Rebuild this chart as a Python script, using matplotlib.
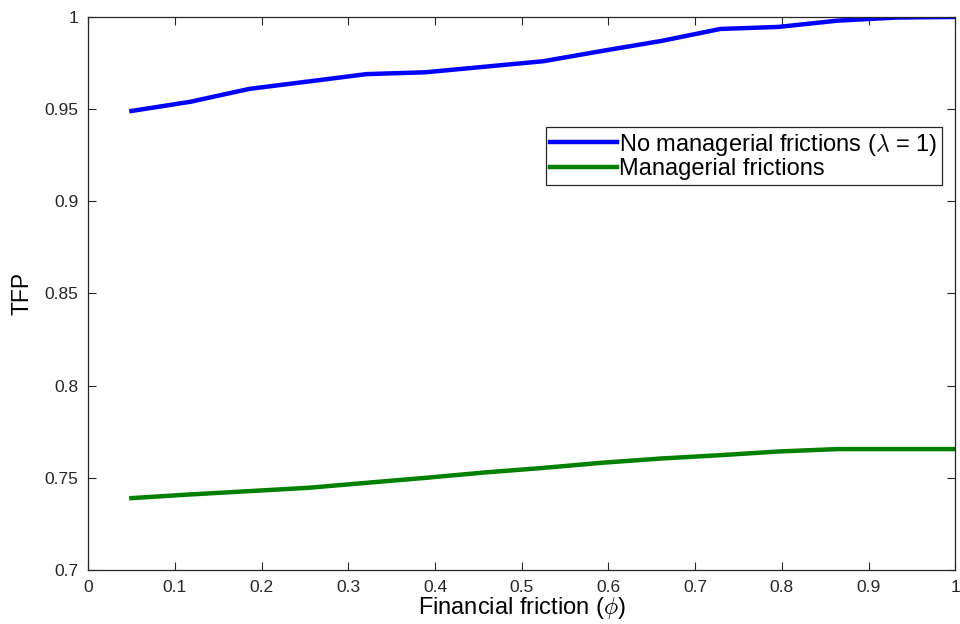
import matplotlib
matplotlib.use("Agg")
import matplotlib.pyplot as plt
import numpy as np

phi = [0.05, 0.118, 0.186, 0.254, 0.321, 0.389, 0.457, 0.525, 0.593, 0.661, 0.729, 0.796, 0.864, 0.932, 1.0]
tfp_no_mgr = [0.949, 0.954, 0.961, 0.965, 0.969, 0.970, 0.973, 0.976, 0.9816, 0.987, 0.9935, 0.9946, 0.998, 0.9997, 1.0]
tfp_mgr = [0.739, 0.741, 0.7428, 0.7446, 0.7473, 0.750, 0.7529, 0.7554, 0.7582, 0.7605, 0.7623, 0.7643, 0.7656, 0.7656, 0.7656]

xticks = [0, 0.1, 0.2, 0.3, 0.4, 0.5, 0.6, 0.7, 0.8, 0.9, 1]
xticklabels = ["0", "0.1", "0.2", "0.3", "0.4", "0.5", "0.6", "0.7", "0.8", "0.9", "1"]
yticks = [0.7, 0.75, 0.8, 0.85, 0.9, 0.95, 1]
yticklabels = ["0.7", "0.75", "0.8", "0.85", "0.9", "0.95", "1"]

plt.rcParams['font.family'] = ['Liberation Sans', 'DejaVu Sans']
plt.rcParams['mathtext.fontset'] = 'cm'

fig = plt.figure(figsize=(9.6, 6.24), dpi=100)
ax = fig.add_axes([0.0917, 0.0865, 0.9035, 0.8863])

ax.plot(phi, tfp_no_mgr, color=(0, 0, 1), lw=3.2, label=r"No managerial frictions ($\lambda$ = 1)")
ax.plot(phi, tfp_mgr, color=(0, 0.5, 0), lw=3.2, label="Managerial frictions")

ax.set_xlim(0, 1)
ax.set_ylim(0.7, 1)
ax.set_xticks(xticks)
ax.set_xticklabels(xticklabels, fontsize=12.5)
ax.set_yticks(yticks)
ax.set_yticklabels(yticklabels, fontsize=12.5)
ax.tick_params(direction='in', length=6, width=0.8, top=True, right=True, color='#262626', labelcolor='#262626', pad=7)
for s in ax.spines.values():
    s.set_linewidth(0.9)
    s.set_color('#262626')

ax.set_xlabel(r"Financial friction ($\phi$)", fontsize=17, labelpad=0)
ax.set_ylabel("TFP", fontsize=16.5, labelpad=8)

leg = ax.legend(loc='upper right', bbox_to_anchor=(0.9845, 0.801), fontsize=17, frameon=True,
                fancybox=False, handlelength=2.8, handletextpad=0.1, borderpad=0.2, labelspacing=0.02,
                borderaxespad=0)
leg.get_frame().set_edgecolor('#262626')
leg.get_frame().set_linewidth(0.9)
leg.get_frame().set_alpha(1)

fig.savefig("out.png", dpi=100)
